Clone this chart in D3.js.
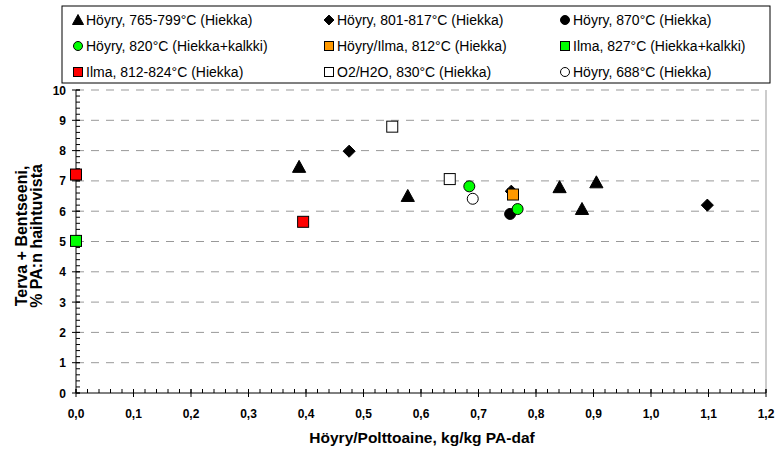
<!DOCTYPE html>
<html>
<head>
<meta charset="utf-8">
<script src="https://cdn.jsdelivr.net/npm/d3@7"></script>
<style>
  body { margin: 0; background: #fff; }
  text { font-family: Arial, "Liberation Sans", sans-serif; }
</style>
</head>
<body>
<script>
// Series data (x = Höyry/Polttoaine, y = % PA:n haihtuvista)
const triX = [0.388, 0.577, 0.841, 0.880, 0.905];
const triY = [7.46, 6.50, 6.79, 6.07, 6.95];
const diaX = [0.475, 0.757, 1.098];
const diaY = [7.98, 6.66, 6.20];
const blackCircX = [0.755];
const blackCircY = [5.91];
const greenCircX = [0.684, 0.768];
const greenCircY = [6.82, 6.07];
const orangeSqX = [0.760];
const orangeSqY = [6.55];
const greenSqX = [0.0];
const greenSqY = [5.02];
const redSqX = [0.0, 0.395];
const redSqY = [7.21, 5.65];
const openSqX = [0.550, 0.650];
const openSqY = [8.79, 7.06];
const openCircX = [0.690];
const openCircY = [6.41];

const xTicks = [0, 0.1, 0.2, 0.3, 0.4, 0.5, 0.6, 0.7, 0.8, 0.9, 1.0, 1.1, 1.2];
const yTicks = [0, 1, 2, 3, 4, 5, 6, 7, 8, 9, 10];

const series = [
  { name: "Höyry, 765-799°C (Hiekka)", shape: "tri", fill: "#000", stroke: "#000", xs: triX, ys: triY },
  { name: "Höyry, 801-817°C (Hiekka)", shape: "dia", fill: "#000", stroke: "#000", xs: diaX, ys: diaY },
  { name: "Höyry, 870°C (Hiekka)", shape: "circ", fill: "#000", stroke: "#000", xs: blackCircX, ys: blackCircY },
  { name: "Höyry, 820°C (Hiekka+kalkki)", shape: "circ", fill: "#00ff00", stroke: "#000", xs: greenCircX, ys: greenCircY },
  { name: "Höyry/Ilma, 812°C (Hiekka)", shape: "sq", fill: "#ff9900", stroke: "#000", xs: orangeSqX, ys: orangeSqY },
  { name: "Ilma, 827°C (Hiekka+kalkki)", shape: "sq", fill: "#00ff00", stroke: "#000", xs: greenSqX, ys: greenSqY },
  { name: "Ilma, 812-824°C (Hiekka)", shape: "sq", fill: "#ff0000", stroke: "#000", xs: redSqX, ys: redSqY },
  { name: "O2/H2O, 830°C (Hiekka)", shape: "sq", fill: "#fff", stroke: "#000", xs: openSqX, ys: openSqY },
  { name: "Höyry, 688°C (Hiekka)", shape: "circ", fill: "#fff", stroke: "#000", xs: openCircX, ys: openCircY }
];

const W = 777, H = 449;
const margin = { left: 76, right: 11, top: 90, bottom: 56 };

const svg = d3.select("body").append("svg")
  .attr("width", W).attr("height", H);

const x = d3.scaleLinear().domain([0, 1.2]).range([margin.left, W - margin.right]);
const y = d3.scaleLinear().domain([0, 10]).range([H - margin.bottom, margin.top]);

// gridlines
svg.append("g").selectAll("line")
  .data(yTicks.filter(d => d > 0))
  .enter().append("line")
  .attr("x1", x(0)).attr("x2", x(1.2))
  .attr("y1", d => y(d)).attr("y2", d => y(d))
  .attr("stroke", "#999").attr("stroke-width", 1)
  .attr("stroke-dasharray", "8,7");

// right border
svg.append("line")
  .attr("x1", x(1.2)).attr("x2", x(1.2))
  .attr("y1", y(10)).attr("y2", y(0))
  .attr("stroke", "#999").attr("stroke-width", 1);

// x axis: major ticks crossing, minor ticks inside
const xAxis = svg.append("g").attr("transform", `translate(0,${y(0)})`);
xAxis.append("line").attr("x1", x(0)).attr("x2", x(1.2)).attr("stroke", "#000");
xAxis.selectAll(".minor").data(d3.range(0, 61).map(i => i * 0.02))
  .enter().append("line")
  .attr("x1", d => x(d)).attr("x2", d => x(d))
  .attr("y1", 0).attr("y2", -4).attr("stroke", "#000");
xAxis.selectAll(".major").data(xTicks)
  .enter().append("line")
  .attr("x1", d => x(d)).attr("x2", d => x(d))
  .attr("y1", -4).attr("y2", 4).attr("stroke", "#000");
xAxis.selectAll("text").data(xTicks)
  .enter().append("text")
  .attr("x", d => x(d)).attr("y", 25)
  .attr("text-anchor", "middle")
  .style("font-size", "12px").style("font-weight", "bold")
  .text(d => d3.format(".1f")(d).replace(".", ","));

// y axis
const yAxis = svg.append("g").attr("transform", `translate(${x(0)},0)`);
yAxis.append("line").attr("y1", y(0)).attr("y2", y(10)).attr("stroke", "#000");
yAxis.selectAll(".minor").data(d3.range(0, 51).map(i => i * 0.2))
  .enter().append("line")
  .attr("y1", d => y(d)).attr("y2", d => y(d))
  .attr("x1", 0).attr("x2", 4).attr("stroke", "#000");
yAxis.selectAll(".major").data(yTicks)
  .enter().append("line")
  .attr("y1", d => y(d)).attr("y2", d => y(d))
  .attr("x1", -4).attr("x2", 4).attr("stroke", "#000");
yAxis.selectAll("text").data(yTicks)
  .enter().append("text")
  .attr("x", -10).attr("y", d => y(d) + 4.5)
  .attr("text-anchor", "end")
  .style("font-size", "12px").style("font-weight", "bold")
  .text(d => d);

// axis titles
svg.append("text")
  .attr("x", 422).attr("y", 443)
  .attr("text-anchor", "middle")
  .style("font-size", "15.5px").style("font-weight", "bold")
  .text("Höyry/Polttoaine, kg/kg PA-daf");

const yTitle = svg.append("text")
  .attr("transform", `translate(27,236) rotate(-90)`)
  .attr("text-anchor", "middle")
  .style("font-size", "16px").style("font-weight", "bold");
yTitle.append("tspan").attr("x", 0).attr("dy", 0).text("Terva + Bentseeni,");
yTitle.append("tspan").attr("x", 0).attr("dy", 15).text("% PA:n haihtuvista");

// marker drawing
function drawMarker(g, shape, cx, cy, size, fill, stroke) {
  if (shape === "sq") {
    g.append("rect").attr("x", cx - size / 2).attr("y", cy - size / 2)
      .attr("width", size).attr("height", size)
      .attr("fill", fill).attr("stroke", stroke).attr("stroke-width", 1);
  } else if (shape === "circ") {
    g.append("circle").attr("cx", cx).attr("cy", cy).attr("r", size / 2)
      .attr("fill", fill).attr("stroke", stroke).attr("stroke-width", 1);
  } else if (shape === "tri") {
    const s = size;
    g.append("path")
      .attr("d", `M${cx},${cy - s * 0.55}L${cx + s * 0.55},${cy + s * 0.45}L${cx - s * 0.55},${cy + s * 0.45}Z`)
      .attr("fill", fill).attr("stroke", stroke);
  } else if (shape === "dia") {
    const s = size * 0.55;
    g.append("path")
      .attr("d", `M${cx},${cy - s}L${cx + s},${cy}L${cx},${cy + s}L${cx - s},${cy}Z`)
      .attr("fill", fill).attr("stroke", stroke);
  }
}

const pts = svg.append("g");
series.forEach(s => {
  s.xs.forEach((v, i) => {
    const sz = s.shape === "sq" ? 11 : s.shape === "circ" ? 11 : s.shape === "tri" ? 12 : 11;
    drawMarker(pts, s.shape, x(v), y(s.ys[i]), sz, s.fill, s.stroke);
  });
});

// legend
const legend = svg.append("g");
legend.append("rect")
  .attr("x", 62).attr("y", 6).attr("width", 708).attr("height", 77)
  .attr("fill", "#fff").attr("stroke", "#000").attr("stroke-width", 1);
const colX = [78, 329, 565];
const rowY = [20, 46, 72];
series.forEach((s, i) => {
  const cx = colX[i % 3], cy = rowY[Math.floor(i / 3)];
  drawMarker(legend, s.shape, cx, cy, s.shape === "tri" ? 10 : 9, s.fill, s.stroke);
  legend.append("text")
    .attr("x", cx + 8).attr("y", cy + 5)
    .style("font-size", "14px")
    .text(s.name);
});
</script>
</body>
</html>
